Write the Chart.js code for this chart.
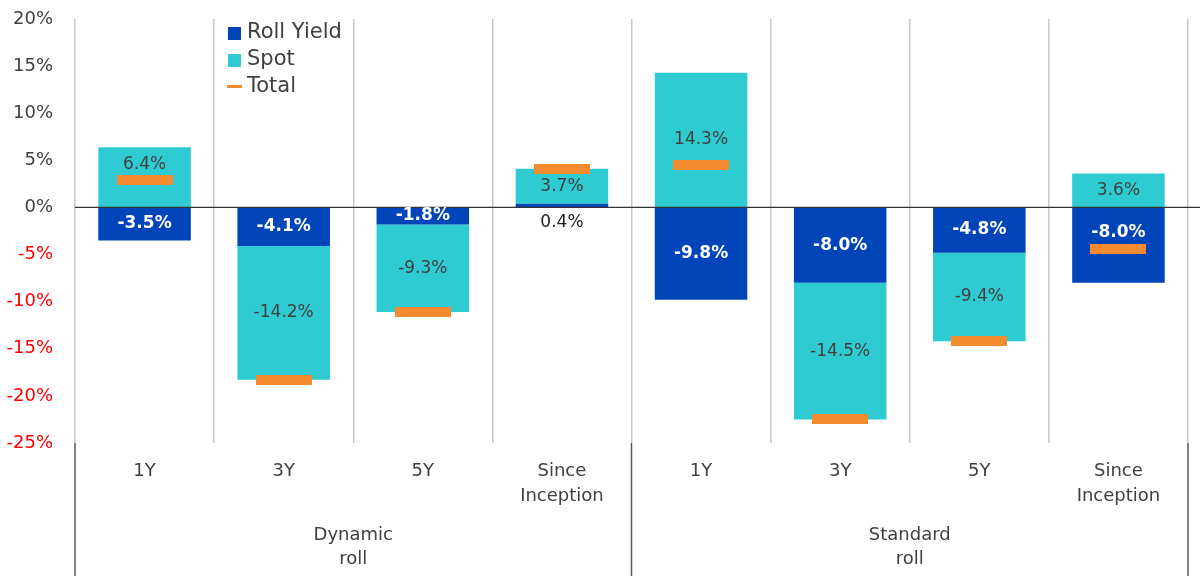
<!DOCTYPE html>
<html>
<head>
<meta charset="utf-8">
<script src="https://cdn.jsdelivr.net/npm/chart.js@4.4.1/dist/chart.umd.min.js"></script>
<style>
  html,body{margin:0;padding:0;background:#fff;}
  #wrap{width:1200px;height:582px;}
</style>
</head>
<body>
<div id="wrap"><canvas id="c" width="1200" height="582"></canvas></div>
<script>
// ---- data ----
const categories = [['1Y'],['3Y'],['5Y'],['Since','Inception'],['1Y'],['3Y'],['5Y'],['Since','Inception']];
const groups = [['Dynamic','roll'],['Standard','roll']];
const rollYield = [-3.5,-4.1,-1.8,0.4,-9.8,-8.0,-4.8,-8.0];
const spot = [6.4,-14.2,-9.3,3.7,14.3,-14.5,-9.4,3.6];
const total = [2.9,-18.3,-11.1,4.1,4.5,-22.5,-14.2,-4.4];
const seriesNames = ['Roll Yield','Spot','Total'];
const yTicks = {min:-25, max:20, step:5};

// ---- styles ----
const FONT = "'DejaVu Sans', sans-serif";
const TXT = '#404040';
const C_ROLL = '#0044B9';
const C_SPOT = '#2ECCD2';
const C_TOTAL = '#F58B2F';

function makeMarker(w,h,color){
  const cv = document.createElement('canvas');
  cv.width = w; cv.height = h;
  const g = cv.getContext('2d');
  g.fillStyle = color; g.fillRect(0,0,w,h);
  return cv;
}
const totalMarker = makeMarker(56,10,C_TOTAL);

const labelPlugin = {
  id:'labels',
  afterDatasetsDraw(chart){
    const ctx = chart.ctx;
    const ys = chart.scales.y;
    const area = chart.chartArea;
    // zero axis line
    const y0 = ys.getPixelForValue(0);
    ctx.save();
    ctx.strokeStyle = '#333'; ctx.lineWidth = 1.2;
    ctx.beginPath(); ctx.moveTo(area.left, y0); ctx.lineTo(chart.width, y0); ctx.stroke();
    ctx.restore();

    const tMeta = chart.getDatasetMeta(2);
    ctx.save();
    ctx.textAlign = 'center'; ctx.textBaseline = 'middle';
    [0,1].forEach(di => {
      const meta = chart.getDatasetMeta(di);
      const vals = chart.data.datasets[di].data;
      meta.data.forEach((bar, j) => {
        const p = bar.getProps(['x','y','base'], true);
        const h = Math.abs(p.base - p.y);
        let cy = (p.y + p.base)/2;
        let color = di === 0 ? '#ffffff' : TXT;
        let weight = di === 0 ? 'bold' : 'normal';
        if (h < 14) { cy = Math.max(p.y, p.base) + 15; color = '#222'; weight = 'normal'; }
        const my = tMeta.data[j].y;
        const th = 9, mh = 5;
        if (Math.abs(cy - my) < th + mh + 1) { cy = my - mh - 2 - th; }
        ctx.font = weight + ' 17px ' + FONT;
        ctx.fillStyle = color;
        ctx.fillText(vals[j].toFixed(1) + '%', p.x, cy);
      });
    });
    ctx.restore();
  },
  afterDraw(chart){
    const ctx = chart.ctx;
    const xs = chart.scales.x;
    const area = chart.chartArea;
    ctx.save();
    // separator lines in category label area
    const half = (xs.getPixelForValue(1) - xs.getPixelForValue(0))/2;
    const seps = [xs.getPixelForValue(0)-half, xs.getPixelForValue(3)+half, xs.getPixelForValue(7)+half];
    ctx.strokeStyle = '#595959'; ctx.lineWidth = 1.5;
    seps.forEach(sx => { ctx.beginPath(); ctx.moveTo(sx, area.bottom); ctx.lineTo(sx, 576); ctx.stroke(); });
    // group labels
    ctx.font = '18px ' + FONT; ctx.fillStyle = TXT;
    ctx.textAlign = 'center'; ctx.textBaseline = 'middle';
    groups.forEach((g, gi) => {
      const cx = (xs.getPixelForValue(gi*4+1) + xs.getPixelForValue(gi*4+2))/2;
      g.forEach((line, li) => ctx.fillText(line, cx, 535 + li*24));
    });
    // legend
    const lx = area.left + 153;
    ctx.font = '21px ' + FONT; ctx.textAlign = 'left';
    ctx.fillStyle = C_ROLL; ctx.fillRect(lx, 27, 13, 13);
    ctx.fillStyle = C_SPOT; ctx.fillRect(lx, 54, 13, 13);
    ctx.fillStyle = C_TOTAL; ctx.fillRect(lx - 1, 85, 15, 3);
    ctx.fillStyle = TXT;
    ctx.fillText(seriesNames[0], lx + 19, 33);
    ctx.fillText(seriesNames[1], lx + 19, 60);
    ctx.fillText(seriesNames[2], lx + 19, 87);
    ctx.restore();
  }
};

new Chart(document.getElementById('c'), {
  data: {
    labels: categories,
    datasets: [
      {type:'bar', label:seriesNames[0], data:rollYield, backgroundColor:C_ROLL, stack:'a', barPercentage:0.665, categoryPercentage:1},
      {type:'bar', label:seriesNames[1], data:spot, backgroundColor:C_SPOT, stack:'a', barPercentage:0.665, categoryPercentage:1},
      {type:'line', label:seriesNames[2], data:total, showLine:false, stack:'t', order:-1,
       pointStyle: totalMarker, pointRadius:5, pointHoverRadius:5, borderColor:C_TOTAL, backgroundColor:C_TOTAL}
    ]
  },
  options: {
    responsive:false, animation:false,
    layout:{padding:{top:19, right:12, left:0, bottom:0}},
    plugins:{legend:{display:false}, tooltip:{enabled:false}},
    scales:{
      x:{
        stacked:true, offset:true,
        grid:{offset:true, color:'#c8c8c8', lineWidth:1.5, drawTicks:false},
        border:{display:false},
        ticks:{color:TXT, font:{family:FONT, size:18, lineHeight:1.4}, padding:16, autoSkip:false, maxRotation:0},
        afterFit(s){ s.height = 139; }
      },
      y:{
        stacked:true, min:yTicks.min, max:yTicks.max,
        grid:{display:false, drawTicks:false},
        border:{display:false},
        ticks:{stepSize:yTicks.step, padding:22,
          color:(c)=> c.tick.value < 0 ? '#FF0000' : TXT,
          font:{family:FONT, size:18},
          callback:(v)=> v + '%'},
        afterFit(s){ s.width = 75; s.paddingTop = 0; s.paddingBottom = 0; }
      }
    }
  },
  plugins:[labelPlugin]
});
</script>
</body>
</html>
